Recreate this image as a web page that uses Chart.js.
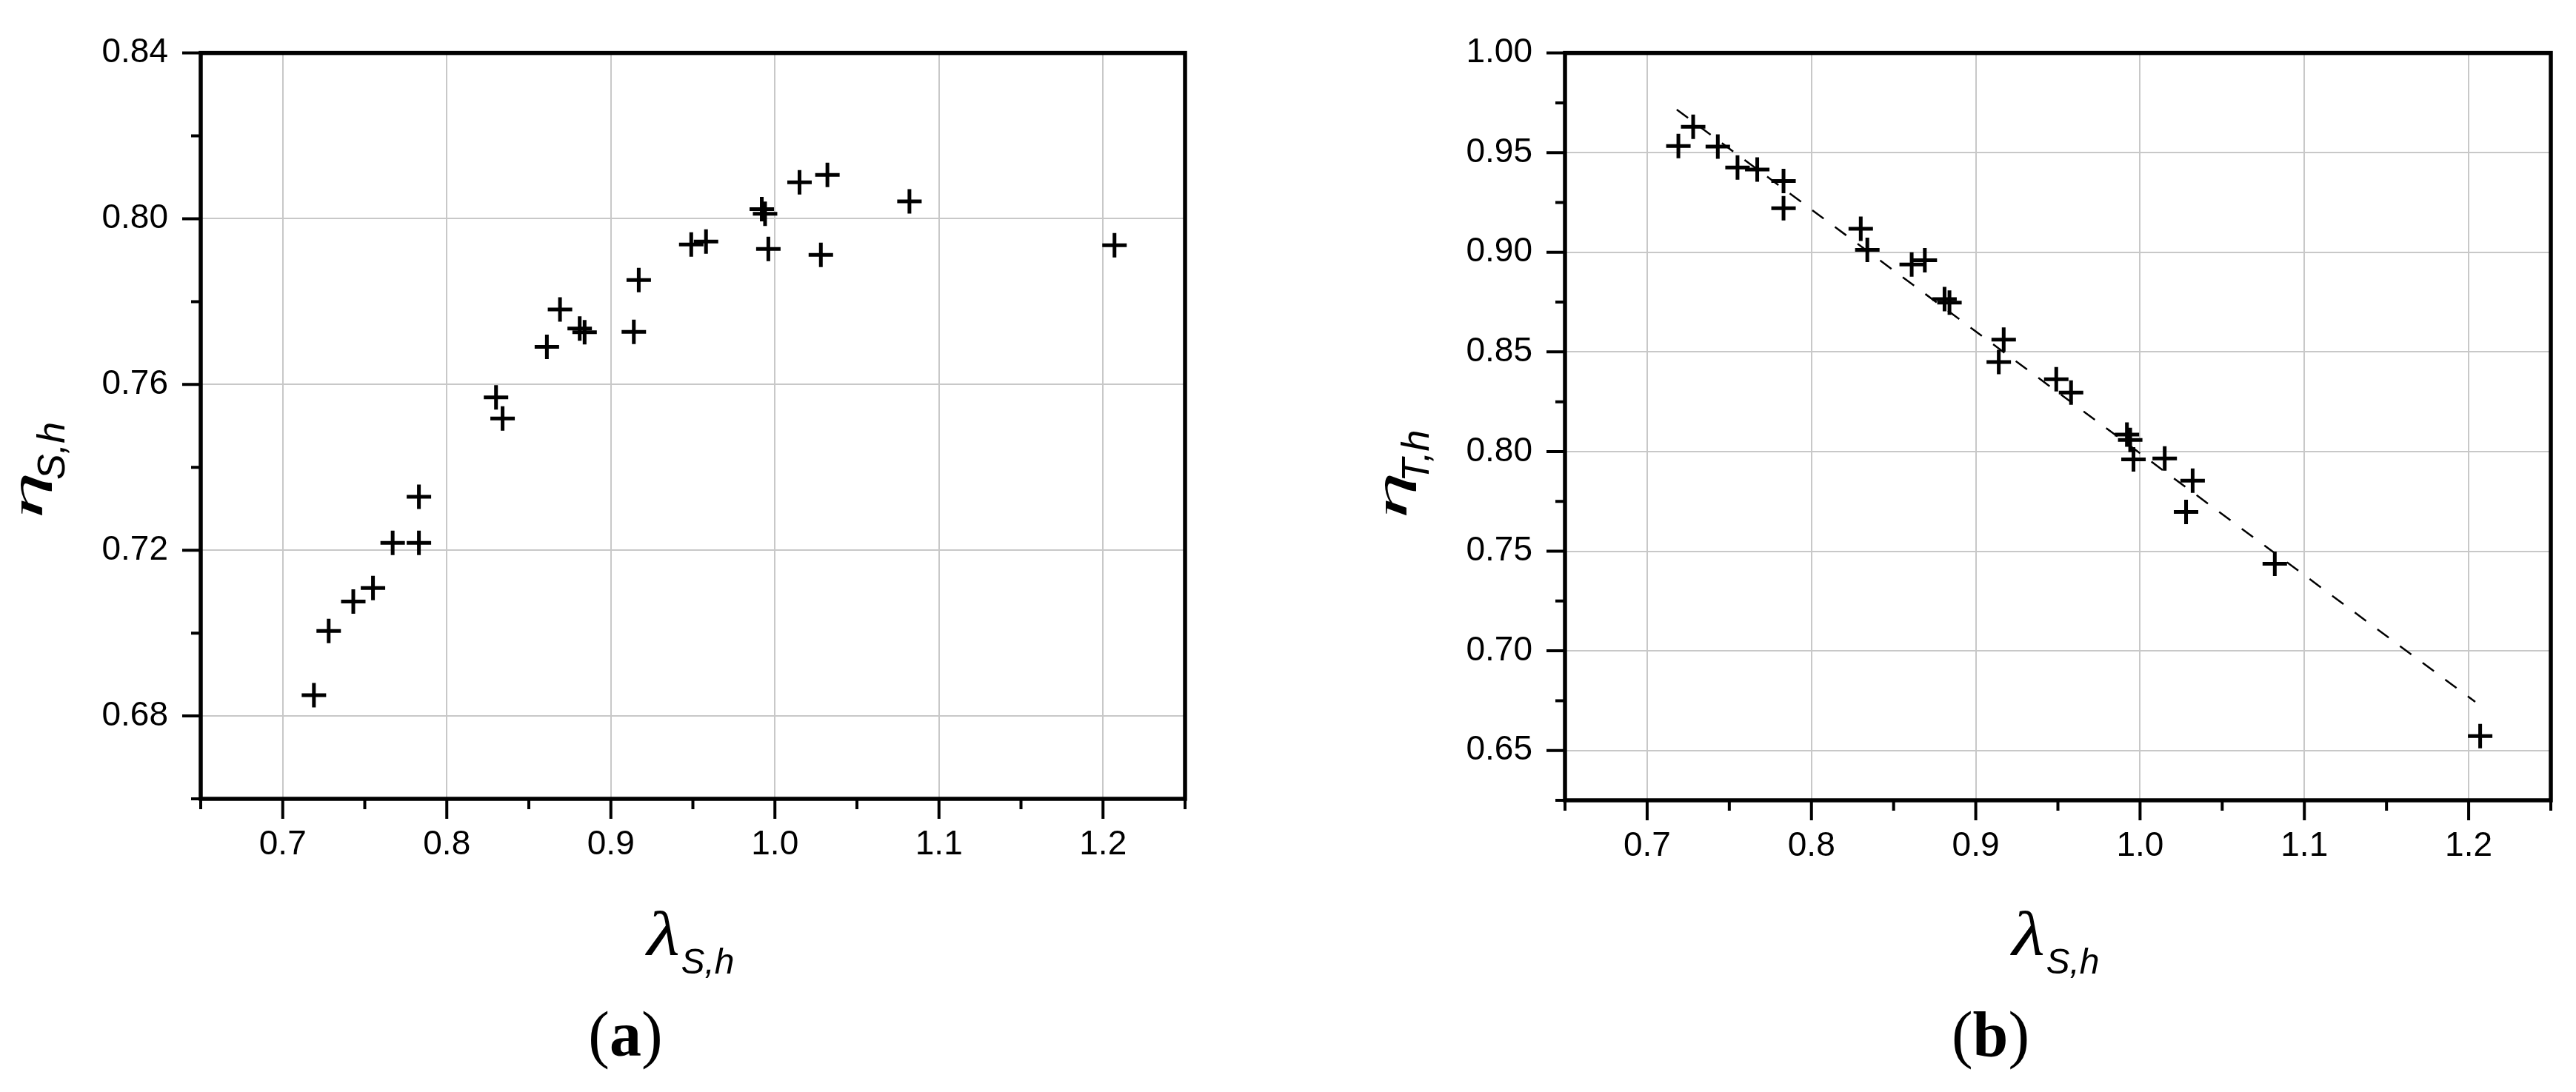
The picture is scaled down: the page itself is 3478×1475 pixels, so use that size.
<!DOCTYPE html>
<html>
<head>
<meta charset="utf-8">
<script src="https://cdn.jsdelivr.net/npm/chart.js@4.4.1/dist/chart.umd.min.js"></script>
<style>
  html, body { margin: 0; padding: 0; background: #fff; }
  #wrap { position: relative; width: 3478px; height: 1475px; }
  canvas { position: absolute; top: 0; }
  #chartA { left: 0; }
  #chartB { left: 1739px; }
</style>
</head>
<body>
<div id="wrap">
  <canvas id="chartA" width="1739" height="1475"></canvas>
  <canvas id="chartB" width="1739" height="1475"></canvas>
</div>
<script>
// lambda_S,h of each run (same runs in both panels)
const lambdaSH = [0.719, 0.728, 0.743, 0.755, 0.767, 0.783, 0.783, 0.830, 0.834, 0.861,
                  0.869, 0.881, 0.884, 0.914, 0.917, 0.949, 0.958, 0.992, 0.994, 0.996,
                  1.015, 1.032, 1.028, 1.082, 1.207];
// panel (a): eta_S,h
const etaSH = [0.6850, 0.7005, 0.7076, 0.7109, 0.7218, 0.7218, 0.7329, 0.7569, 0.7518, 0.7691,
               0.7781, 0.7735, 0.7726, 0.7727, 0.7852, 0.7938, 0.7945, 0.8023, 0.8012, 0.7927,
               0.8088, 0.8106, 0.7913, 0.8042, 0.7936];
// panel (b): eta_T,h
const etaTH = [0.9533, 0.9630, 0.9530, 0.9425, 0.9415, 0.9358, 0.9221, 0.9118, 0.9012, 0.8939,
               0.8960, 0.8765, 0.8747, 0.8449, 0.8562, 0.8363, 0.8296, 0.8085, 0.8058, 0.7961,
               0.7965, 0.7854, 0.7697, 0.7437, 0.6572];
// dashed fit line in panel (b), end points
const trendX = [0.718, 1.204];
const trendY = [0.9716, 0.6744];

// ticks
const xTicks = [0.7, 0.8, 0.9, 1.0, 1.1, 1.2];
const xMinor = [0.65, 0.75, 0.85, 0.95, 1.05, 1.15, 1.25];
const yTicksA = [0.68, 0.72, 0.76, 0.80, 0.84];
const yMinorA = [0.66, 0.70, 0.74, 0.78, 0.82];
const yTicksB = [0.65, 0.70, 0.75, 0.80, 0.85, 0.90, 0.95, 1.00];
const yMinorB = [0.625, 0.675, 0.725, 0.775, 0.825, 0.875, 0.925, 0.975];

const SANS = '"Liberation Sans", Arial, sans-serif';
const SERIF = '"Liberation Serif", "Times New Roman", serif';

// draw text so that its ink fills the box (left, top, w, h)
function drawFit(ctx, text, font, left, top, w, h) {
    ctx.font = font;
    const m = ctx.measureText(text);
    const iw = m.actualBoundingBoxLeft + m.actualBoundingBoxRight;
    const ih = m.actualBoundingBoxAscent + m.actualBoundingBoxDescent;
    ctx.save();
    ctx.translate(left, top);
    ctx.scale(w / iw, h / ih);
    ctx.fillText(text, m.actualBoundingBoxLeft, m.actualBoundingBoxAscent);
    ctx.restore();
}

// draw text with its ink starting at inkLeft, on the given baseline
function drawFrom(ctx, text, font, inkLeft, baseline) {
    ctx.font = font;
    const m = ctx.measureText(text);
    ctx.fillText(text, inkLeft + m.actualBoundingBoxLeft, baseline);
}

// frame, outward ticks, axis titles and panel caption
const decor = {
    id: 'decor',
    afterDraw(chart, args, opts) {
        const ctx = chart.ctx;
        const a = chart.chartArea;
        const xs = chart.scales.x;
        const ys = chart.scales.y;
        ctx.save();
        ctx.strokeStyle = '#000';
        ctx.fillStyle = '#000';

        ctx.lineWidth = 5.5;
        ctx.strokeRect(a.left, a.top, a.right - a.left, a.bottom - a.top);

        ctx.lineWidth = 4;
        ctx.beginPath();
        opts.yMajor.forEach(v => {
            const p = ys.getPixelForValue(v);
            ctx.moveTo(a.left - 25, p); ctx.lineTo(a.left, p);
        });
        opts.yMinor.forEach(v => {
            const p = ys.getPixelForValue(v);
            ctx.moveTo(a.left - 13, p); ctx.lineTo(a.left, p);
        });
        xTicks.forEach(v => {
            const p = xs.getPixelForValue(v);
            ctx.moveTo(p, a.bottom); ctx.lineTo(p, a.bottom + 27);
        });
        xMinor.forEach(v => {
            const p = xs.getPixelForValue(v);
            ctx.moveTo(p, a.bottom); ctx.lineTo(p, a.bottom + 14);
        });
        ctx.stroke();

        ctx.textAlign = 'left';
        ctx.textBaseline = 'alphabetic';

        // y title, reading upwards
        ctx.save();
        ctx.rotate(-Math.PI / 2);
        drawFit(ctx, opts.yMain, 'italic 100px ' + SERIF, -697, a.left - 243, 55, 42);
        drawFrom(ctx, opts.ySub, 'italic 52px ' + SANS, -647, a.left - 184);
        ctx.restore();

        // x title
        const cx = (a.left + a.right) / 2;
        drawFit(ctx, opts.xMain, 'italic 100px ' + SERIF, cx - 65, 1230, 45, 60);
        drawFrom(ctx, opts.xSub, 'italic 48px ' + SANS, cx - 15, 1315);

        // caption "(a)" / "(b)"
        const capX = cx - 91;
        ctx.font = '86px ' + SERIF;
        const wp = ctx.measureText('(').width;
        const wq = ctx.measureText(')').width;
        ctx.font = 'bold 86px ' + SERIF;
        const wl = ctx.measureText(opts.caption).width;
        const x0 = capX - (wp + wl + wq) / 2;
        ctx.font = '86px ' + SERIF;
        ctx.fillText('(', x0, 1426);
        ctx.font = 'bold 86px ' + SERIF;
        ctx.fillText(opts.caption, x0 + wp, 1426);
        ctx.font = '86px ' + SERIF;
        ctx.fillText(')', x0 + wp + wl, 1426);
        ctx.restore();
    }
};

function makeScales(yMin, yMax, yTicks, yWidth, xHeight) {
    return {
        x: {
            type: 'linear',
            min: 0.65,
            max: 1.25,
            afterBuildTicks: s => { s.ticks = xTicks.map(v => ({ value: v })); },
            afterFit: s => { s.height = xHeight; },
            grid: { color: '#c8c8c8', lineWidth: 2, drawTicks: false },
            border: { display: false },
            ticks: {
                autoSkip: false,
                maxRotation: 0,
                padding: 35,
                color: '#000',
                font: { family: SANS, size: 46 },
                callback: v => Number(v).toFixed(1)
            }
        },
        y: {
            type: 'linear',
            min: yMin,
            max: yMax,
            afterBuildTicks: s => { s.ticks = yTicks.map(v => ({ value: v })); },
            afterFit: s => { s.width = yWidth; },
            grid: { color: '#c8c8c8', lineWidth: 2, drawTicks: false },
            border: { display: false },
            ticks: {
                autoSkip: false,
                padding: 44,
                color: '#000',
                font: { family: SANS, size: 46 },
                callback: v => Number(v).toFixed(2)
            }
        }
    };
}

function pointsOf(xs, ys) {
    return xs.map((x, i) => ({ x: x, y: ys[i] }));
}

const markerStyle = {
    showLine: false,
    pointStyle: 'cross',
    pointRadius: 16.5,
    pointHoverRadius: 16.5,
    pointBorderWidth: 5,
    borderColor: '#000',
    backgroundColor: '#000',
    clip: false
};

new Chart(document.getElementById('chartA'), {
    type: 'scatter',
    data: {
        datasets: [Object.assign({ data: pointsOf(lambdaSH, etaSH) }, markerStyle)]
    },
    options: {
        responsive: false,
        animation: false,
        devicePixelRatio: 1,
        events: [],
        layout: { padding: { top: 53, left: 0, right: 139, bottom: 0 } },
        scales: makeScales(0.66, 0.84, yTicksA, 271, 396),
        plugins: {
            legend: { display: false },
            tooltip: { enabled: false },
            decor: {
                yMajor: yTicksA, yMinor: yMinorA,
                yMain: 'η', ySub: 'S,h',
                xMain: 'λ', xSub: 'S,h',
                caption: 'a'
            }
        }
    },
    plugins: [decor]
});

new Chart(document.getElementById('chartB'), {
    type: 'scatter',
    data: {
        datasets: [
            Object.assign({ data: pointsOf(lambdaSH, etaTH) }, markerStyle),
            {
                data: pointsOf(trendX, trendY),
                showLine: true,
                borderColor: '#000',
                borderWidth: 2.5,
                borderDash: [19, 19],
                pointRadius: 0,
                fill: false
            }
        ]
    },
    options: {
        responsive: false,
        animation: false,
        devicePixelRatio: 1,
        events: [],
        layout: { padding: { top: 53, left: 0, right: 34, bottom: 0 } },
        scales: makeScales(0.625, 1.0, yTicksB, 374, 394),
        plugins: {
            legend: { display: false },
            tooltip: { enabled: false },
            decor: {
                yMajor: yTicksB, yMinor: yMinorB,
                yMain: 'η', ySub: 'T,h',
                xMain: 'λ', xSub: 'S,h',
                caption: 'b'
            }
        }
    },
    plugins: [decor]
});
</script>
</body>
</html>
